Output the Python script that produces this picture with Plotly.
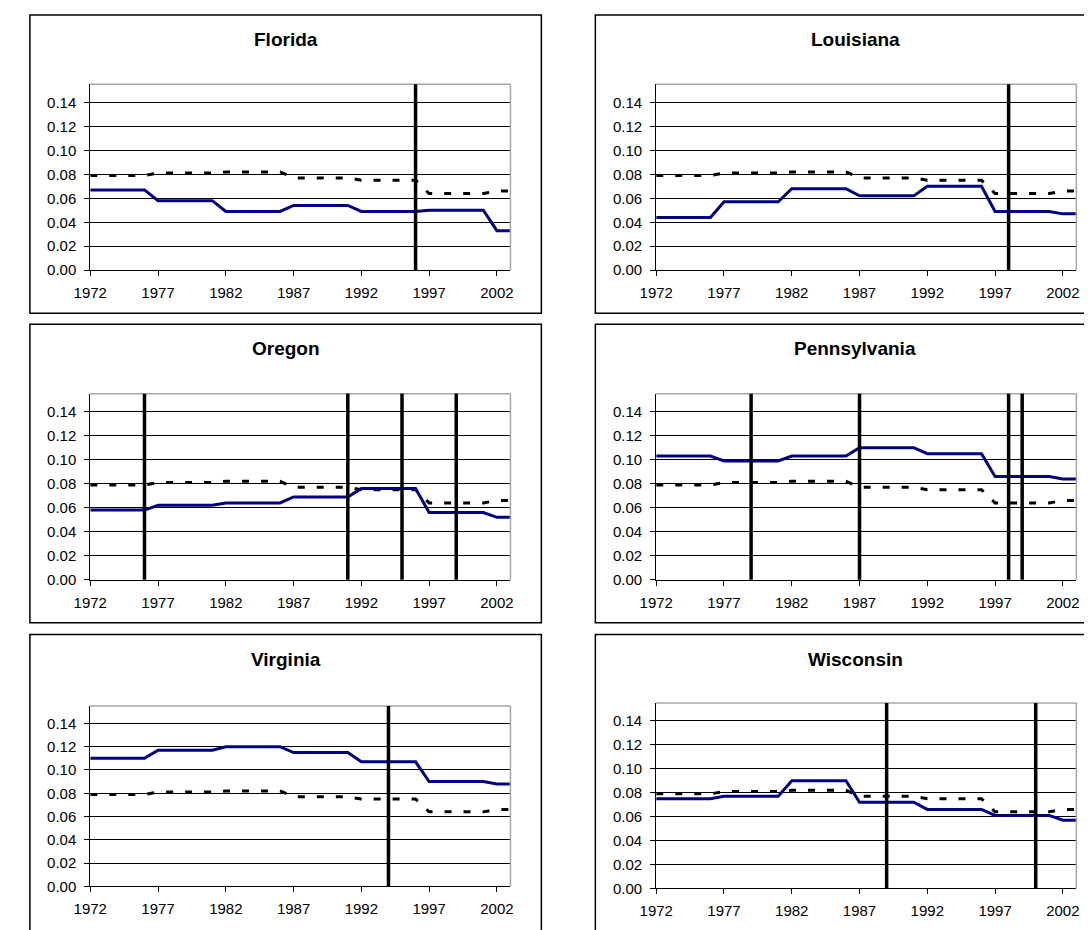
import plotly.graph_objects as go

years = list(range(1972, 2004))

national = [0.079, 0.079, 0.079, 0.079, 0.079,
            0.081, 0.081, 0.081, 0.081, 0.081,
            0.082, 0.082, 0.082, 0.082, 0.082,
            0.077, 0.077, 0.077, 0.077, 0.077,
            0.075, 0.075, 0.075, 0.075, 0.075,
            0.064, 0.064, 0.064, 0.064, 0.064,
            0.066, 0.066]

florida = [0.067, 0.067, 0.067, 0.067, 0.067,
           0.058, 0.058, 0.058, 0.058, 0.058,
           0.049, 0.049, 0.049, 0.049, 0.049,
           0.054, 0.054, 0.054, 0.054, 0.054,
           0.049, 0.049, 0.049, 0.049, 0.049,
           0.050, 0.050, 0.050, 0.050, 0.050,
           0.033, 0.033]
louisiana = [0.044, 0.044, 0.044, 0.044, 0.044,
             0.057, 0.057, 0.057, 0.057, 0.057,
             0.068, 0.068, 0.068, 0.068, 0.068,
             0.062, 0.062, 0.062, 0.062, 0.062,
             0.070, 0.070, 0.070, 0.070, 0.070,
             0.049, 0.049, 0.049, 0.049, 0.049,
             0.047, 0.047]
oregon = [0.058, 0.058, 0.058, 0.058, 0.058,
          0.062, 0.062, 0.062, 0.062, 0.062,
          0.064, 0.064, 0.064, 0.064, 0.064,
          0.069, 0.069, 0.069, 0.069, 0.069,
          0.076, 0.076, 0.076, 0.076, 0.076,
          0.056, 0.056, 0.056, 0.056, 0.056,
          0.052, 0.052]
pennsylvania = [0.103, 0.103, 0.103, 0.103, 0.103,
                0.099, 0.099, 0.099, 0.099, 0.099,
                0.103, 0.103, 0.103, 0.103, 0.103,
                0.110, 0.110, 0.110, 0.110, 0.110,
                0.105, 0.105, 0.105, 0.105, 0.105,
                0.086, 0.086, 0.086, 0.086, 0.086,
                0.084, 0.084]
virginia = [0.110, 0.110, 0.110, 0.110, 0.110,
            0.117, 0.117, 0.117, 0.117, 0.117,
            0.120, 0.120, 0.120, 0.120, 0.120,
            0.115, 0.115, 0.115, 0.115, 0.115,
            0.107, 0.107, 0.107, 0.107, 0.107,
            0.090, 0.090, 0.090, 0.090, 0.090,
            0.088, 0.088]
wisconsin = [0.075, 0.075, 0.075, 0.075, 0.075,
             0.077, 0.077, 0.077, 0.077, 0.077,
             0.090, 0.090, 0.090, 0.090, 0.090,
             0.072, 0.072, 0.072, 0.072, 0.072,
             0.066, 0.066, 0.066, 0.066, 0.066,
             0.061, 0.061, 0.061, 0.061, 0.061,
             0.057, 0.057]

state_names = ["Florida", "Louisiana", "Oregon", "Pennsylvania", "Virginia", "Wisconsin"]
state_values = [florida, louisiana, oregon, pennsylvania, virginia, wisconsin]
event_years = [[1996], [1998], [1976, 1991, 1995, 1999], [1979, 1987, 1998, 1999], [1994], [1989, 2000]]

x_ticks = [1972, 1977, 1982, 1987, 1992, 1997, 2002]
y_ticks = [0.00, 0.02, 0.04, 0.06, 0.08, 0.10, 0.12, 0.14]

# ---- layout geometry (pixels) ----
W, H = 1092, 930
col_plot = [(66.5, 494.5), (643, 1071)]
col_box = [(5, 526), (581, 1110)]
row_plot = [[(77, 264.5), (77, 264.5)],
            [(389, 576.7), (389, 576.7)],
            [(704, 886), (701, 888)]]
row_box = [(7, 308), (319, 620), (632, 940)]
title_y = [32, 343, 657]


def px(x):
    return x / W


def py(y):
    return 1 - y / H


fig = go.Figure()
shapes = []
annotations = []
layout = {}
FONT = "Liberation Sans, Arial, sans-serif"

for i, (name, vals, ev) in enumerate(zip(state_names, state_values, event_years)):
    r, c = divmod(i, 2)
    k = i + 1
    xa = "x" if k == 1 else f"x{k}"
    ya = "y" if k == 1 else f"y{k}"
    xkey = "xaxis" if k == 1 else f"xaxis{k}"
    ykey = "yaxis" if k == 1 else f"yaxis{k}"
    (x0, x1) = col_plot[c]
    (y0, y1) = row_plot[r][c]

    fig.add_trace(go.Scatter(x=years, y=national, mode="lines", xaxis=xa, yaxis=ya,
                             line=dict(color="black", width=3, dash="7px,12px"),
                             showlegend=False, hoverinfo="skip"))
    fig.add_trace(go.Scatter(x=years, y=vals, mode="lines", xaxis=xa, yaxis=ya,
                             line=dict(color="#000080", width=3),
                             showlegend=False, name=name))

    layout[xkey] = dict(domain=[px(x0), px(x1)], range=[1972, 2003], anchor=ya,
                        tickmode="array", tickvals=x_ticks, ticks="outside", ticklen=5,
                        tickcolor="black", showline=True, linecolor="black", linewidth=1,
                        showgrid=False, zeroline=False, ticklabelstandoff=4,
                        tickfont=dict(family=FONT, size=15, color="black"))
    layout[ykey] = dict(domain=[py(y1), py(y0)], range=[0, 0.155], anchor=xa,
                        tickmode="array", tickvals=y_ticks, tickformat=".2f",
                        ticks="outside", ticklen=5, tickcolor="black",
                        showline=True, linecolor="black", linewidth=1,
                        showgrid=True, gridcolor="black", gridwidth=1, zeroline=False,
                        ticklabelstandoff=5,
                        tickfont=dict(family=FONT, size=15, color="black"))

    # plot-area border (top & right in gray)
    shapes.append(dict(type="line", xref=f"{xa} domain", yref=f"{ya} domain",
                       x0=0, x1=1, y0=1, y1=1, line=dict(color="#A6A6A6", width=1.5)))
    shapes.append(dict(type="line", xref=f"{xa} domain", yref=f"{ya} domain",
                       x0=1, x1=1, y0=0, y1=1, line=dict(color="#A6A6A6", width=1.5)))

    # event lines
    for yr in ev:
        shapes.append(dict(type="line", xref=xa, yref=f"{ya} domain",
                           x0=yr, x1=yr, y0=0, y1=1, layer="above",
                           line=dict(color="black", width=3.5)))

    # outer box
    bx0, bx1 = col_box[c]
    by0, by1 = row_box[r]
    shapes.append(dict(type="rect", xref="paper", yref="paper",
                       x0=px(bx0), x1=px(bx1), y0=py(by1), y1=py(by0),
                       line=dict(color="black", width=1.5), fillcolor="rgba(0,0,0,0)"))

    annotations.append(dict(text=f"<b>{name}</b>", xref="paper", yref="paper",
                            x=px((bx0 + bx1) / 2), y=py(title_y[r]),
                            xanchor="center", yanchor="middle", showarrow=False,
                            font=dict(family=FONT, size=19, color="black")))

fig.update_layout(width=W, height=H, margin=dict(l=0, r=0, t=0, b=0),
                  paper_bgcolor="white", plot_bgcolor="white",
                  shapes=shapes, annotations=annotations, showlegend=False, **layout)

fig.write_html("out.html")
